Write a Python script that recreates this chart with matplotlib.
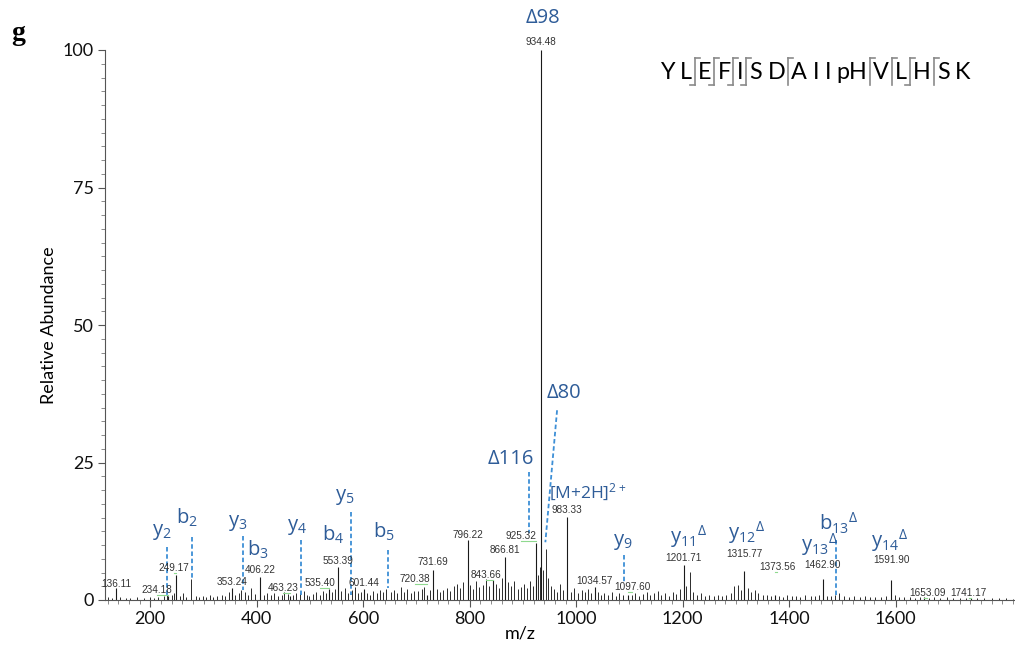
import matplotlib
matplotlib.use('Agg')
import matplotlib.pyplot as plt
from matplotlib.ticker import FixedLocator, MultipleLocator
from matplotlib.lines import Line2D

plt.rcParams['font.family'] = ['Lato', 'DejaVu Sans']
plt.rcParams['mathtext.fontset'] = 'custom'
plt.rcParams['mathtext.rm'] = 'Open Sans'
plt.rcParams['mathtext.it'] = 'Open Sans'
plt.rcParams['mathtext.bf'] = 'Open Sans:bold'

# --- labelled peaks (m/z, relative abundance) ---
label_mz = [136.11, 234.18, 249.17, 353.24, 406.22, 463.23, 535.40, 553.39,
            601.44, 720.38, 731.69, 796.22, 843.66, 866.81, 925.32, 934.48,
            983.33, 1034.57, 1097.60, 1201.71, 1315.77, 1373.56, 1462.90,
            1591.90, 1653.09, 1741.17]
label_int = [2.2, 0.8, 4.5, 2.2, 4.2, 0.8, 2.0, 6.0,
             2.0, 1.0, 5.5, 10.9, 3.6, 7.8, 10.4, 100.0,
             15.1, 2.4, 1.0, 6.4, 5.2, 1.0, 3.8,
             3.6, 0.5, 0.4]

# --- unlabelled peaks ---
peak_mz = [120, 128, 143, 155, 162, 175, 188, 199, 207, 215, 226, 232, 240, 244,
           255, 262, 268, 277.2, 285, 292, 299,
           305, 312, 318, 326, 334, 341, 347, 360, 366, 371, 378, 384, 390, 397,
           414, 420, 427, 433, 440, 447, 452, 458, 468, 474, 481, 488, 494, 499,
           505, 511, 518, 524, 530, 541, 547, 559, 566, 572, 579, 585, 591, 596,
           607, 613, 619, 625, 631, 637, 643, 652, 658, 664, 670, 676, 683, 689, 695,
           703, 710, 715, 725, 738, 744, 750, 757, 763, 770, 776, 782, 788, 801,
           806, 812, 818, 824, 830, 836, 849, 855, 860, 872, 878, 884, 890, 896,
           902, 908, 914, 919, 929, 932, 937, 943, 947, 952, 958, 964, 970, 976,
           990, 996, 1003, 1010, 1016, 1022, 1028, 1040, 1047, 1053, 1060, 1067,
           1074, 1081, 1088, 1104, 1111, 1118, 1125, 1132, 1139, 1146, 1153, 1160,
           1167, 1174, 1181, 1188, 1194,
           1207, 1214, 1220, 1227, 1234, 1241, 1250, 1258, 1266, 1274, 1282, 1290,
           1297, 1303, 1309, 1322, 1328, 1335, 1342, 1350, 1358, 1366, 1380, 1388,
           1396, 1405, 1413, 1421, 1430, 1440, 1448, 1456, 1470, 1478, 1486, 1494,
           1502, 1512, 1522, 1532, 1542, 1552, 1562, 1572, 1582, 1598, 1606, 1616,
           1626, 1636, 1646, 1662, 1672, 1684, 1696, 1708, 1720, 1732, 1752, 1766,
           1780, 1794, 1808, 1820]
peak_int = [0.6, 0.4, 0.5, 0.4, 0.3, 0.5, 0.4, 0.6, 0.4, 0.5, 0.7, 0.9, 1.0, 1.2,
            0.8, 1.3, 0.6, 3.8, 0.7, 0.5, 0.8,
            0.6, 0.9, 0.5, 0.7, 1.0, 0.8, 1.4, 1.0, 1.2, 1.8, 1.5, 0.9, 2.2, 1.1,
            1.0, 1.3, 0.9, 1.2, 0.8, 1.0, 1.5, 1.1, 0.9, 1.3, 1.2, 1.6, 1.0, 0.8,
            1.1, 1.4, 1.0, 1.7, 1.2, 1.5, 2.0, 1.6, 2.2, 1.3, 1.8, 2.4, 1.2, 1.4,
            1.3, 1.0, 1.6, 1.2, 1.8, 1.4, 2.0, 1.5, 1.8, 1.2, 2.3, 1.5, 2.0, 1.3, 1.7,
            1.6, 2.0, 2.4, 1.8, 2.0, 1.5, 1.8, 2.2, 1.6, 2.5, 3.0, 2.2, 3.2, 2.8,
            2.0, 3.5, 2.4, 2.8, 3.8, 2.5, 3.0, 2.2, 4.0, 3.2, 2.6, 3.4, 2.0, 2.4,
            3.0, 2.2, 3.5, 2.6, 4.5, 6.0, 5.5, 9.3, 4.0, 2.5, 2.0, 1.5, 3.0, 1.8,
            1.5, 2.2, 1.2, 1.8, 1.4, 2.0, 1.2, 1.5, 1.0, 1.3, 0.9, 1.4,
            0.8, 1.2, 0.9, 1.0, 1.3, 0.8, 1.1, 1.5, 0.9, 1.2, 1.6, 1.0,
            1.3, 0.8, 1.5, 1.1, 2.0,
            2.5, 5.1, 1.5, 1.0, 1.2, 0.8, 1.0, 0.7, 0.9, 0.8, 1.0, 1.2,
            2.5, 2.8, 1.8, 2.2, 1.5, 1.8, 1.2, 1.0, 0.9, 0.8, 0.8, 0.6,
            0.9, 0.7, 0.8, 0.6, 0.9, 0.7, 0.8, 1.0, 0.8, 0.7, 0.9, 1.2,
            0.7, 0.6, 0.8, 0.5, 0.7, 0.5, 0.6, 0.5, 0.8, 0.9, 0.6, 0.5,
            0.6, 0.4, 0.5, 0.4, 0.5, 0.4, 0.5, 0.3, 0.4, 0.3, 0.3, 0.4,
            0.3, 0.3, 0.3, 0.2]

# --- fragment ions ---
ion_names = ['y$_{2}$', 'b$_{2}$', 'y$_{3}$', 'b$_{3}$', 'y$_{4}$', 'b$_{4}$',
             'y$_{5}$', 'b$_{5}$', 'y$_{9}$', 'y$_{11}{}^{Δ}$', 'y$_{12}{}^{Δ}$',
             'y$_{13}{}^{Δ}$', 'b$_{13}{}^{Δ}$', 'y$_{14}{}^{Δ}$']
ion_mz = [232, 279, 374.6, 406.22, 483.6, 553.39, 577.5, 647, 1090, 1201.71,
          1315.77, 1462.90, 1488, 1591.90]

# --- precursor related labels ---
loss_names = ['Δ98', 'Δ80', 'Δ116', '[M+2H]$^{2+}$']
loss_mz = [934.48, 942, 912, 983.33]

residues = ['Y', 'L', 'E', 'F', 'I', 'S', 'D', 'A', 'I', 'I', 'pH', 'V', 'L', 'H', 'S', 'K']
b_seen = [2, 3, 4, 5, 13]
y_seen = [2, 3, 4, 5, 9, 11, 12, 13, 14]

BLUE = '#2E5C98'
DASH = '#3D8FD6'
W, H = 1015, 650

fig = plt.figure(figsize=(W / 100, H / 100), dpi=100)
ax = fig.add_axes([105 / W, 50 / H, 910 / W, 550 / H])

ax.vlines(peak_mz, 0, peak_int, colors='#2b2b2b', lw=0.7)
ax.vlines(label_mz, 0, label_int, colors='#1a1a1a', lw=0.8)

# peak labels: (dx in m/z, text centre y)
lab_layout = [(0, 2.9), (-22, 1.8), (-4, 5.9), (0, 3.3), (0, 5.4), (-14, 2.2), (-17, 3.1), (0, 7.1),
              (0, 3.1), (-24, 3.8), (0, 6.9), (0, 11.8), (-14, 4.5), (0, 9.1), (-30, 11.6), (0, 101.4),
              (0, 16.3), (0, 3.5), (8, 2.4), (0, 7.7), (0, 8.4), (4, 6.0), (0, 6.4),
              (0, 7.3), (6, 1.3), (-4, 1.3)]
for mz, it, (dx, ly) in zip(label_mz, label_int, lab_layout):
    ax.text(mz + dx, ly, f'{mz:.2f}', ha='center', va='center', fontsize=7.2,
            family='Liberation Sans', color='#333333')
    if dx != 0:
        ax.plot([mz + dx, mz], [ly - 0.9, ly - 0.9], color='#8fd98f', lw=0.8)

# ion labels: (label x, label y, dashed line from, to)
ion_layout = [(222, 12.4, 9.6, 0.9), (269, 14.9, 11.5, 3.6), (365, 14.0, 11.6, 1.8),
              (403, 9.1, None, None), (476, 13.3, 10.9, 0.9), (544, 11.8, None, None),
              (566, 18.7, 16.0, 0.9), (638, 12.4, 9.1, 2.2), (1088, 10.5, 8.2, 3.1),
              (1210, 11.5, None, None), (1320, 12.2, None, None), (1457, 10.0, None, None),
              (1492, 13.9, 10.9, 0.5), (1588, 10.9, None, None)]
for name, mz, (lx, ly, y0, y1) in zip(ion_names, ion_mz, ion_layout):
    ax.text(lx, ly, name, ha='center', va='center', fontsize=14.5, family='Open Sans',
            color=BLUE)
    if y0 is not None:
        ax.plot([mz, mz], [y0, y1], ls=(0, (2.5, 1.5)), color=DASH, lw=1.3)

# precursor losses: (x, y, size, alignment)
loss_layout = [(938, 105.8, 14.5, 'center'), (976, 37.6, 14.5, 'center'),
               (878, 25.6, 14.5, 'center'), (948, 19.6, 12.5, 'left')]
for name, (lx, ly, fs, ha) in zip(loss_names, loss_layout):
    ax.text(lx, ly, name, ha=ha, va='center', fontsize=fs, family='Open Sans',
            color=BLUE, clip_on=False)
ax.plot([964, loss_mz[1]], [34.5, 10.5], ls=(0, (2.5, 1.5)), color=DASH, lw=1.3)
ax.plot([loss_mz[2], loss_mz[2]], [23.3, 12.2], ls=(0, (2.5, 1.5)), color=DASH, lw=1.3)

ax.set_xlim(115, 1824)
ax.set_ylim(0, 100)
ax.xaxis.set_major_locator(FixedLocator([200, 400, 600, 800, 1000, 1200, 1400, 1600]))
ax.xaxis.set_minor_locator(MultipleLocator(20))
ax.yaxis.set_major_locator(FixedLocator([0, 25, 50, 75, 100]))
ax.yaxis.set_minor_locator(MultipleLocator(2.5))
ax.tick_params(which='major', length=5, width=0.8, color='#555555', labelsize=13,
               labelcolor='#111111', pad=3)
ax.tick_params(which='minor', length=3, width=0.6, color='#777777')
for s in ['top', 'right']:
    ax.spines[s].set_visible(False)
for s in ['left', 'bottom']:
    ax.spines[s].set_color('#555555')
    ax.spines[s].set_linewidth(0.8)

ax.set_ylabel('Relative Abundance', fontsize=13)
ax.yaxis.set_label_coords(-0.053, 0.5)
ax.set_xlabel('m/z', fontsize=13)
ax.xaxis.set_label_coords(0.456, -0.047)

fig.text(18 / W, 1 - 33 / H, 'g', fontsize=20, fontweight='bold',
         family='Liberation Serif', ha='center', va='center')

# peptide sequence with fragment brackets
renderer = fig.canvas.get_renderer()
x = 660.0
base = 79.0
n = len(residues)
for i, r in enumerate(residues, start=1):
    t = fig.text(x / W, 1 - base / H, r, fontsize=16.8, family='Lato', va='baseline', ha='left')
    x += t.get_window_extent(renderer).width
    if i == n:
        break
    has_b = i in b_seen
    has_y = (n - i) in y_seen
    if has_b or has_y:
        x += 2.5
        fig.add_artist(Line2D([x / W, x / W], [1 - 58 / H, 1 - 85 / H], color='#8a8a8a', lw=1.2))
        if has_b:
            fig.add_artist(Line2D([(x - 5) / W, x / W], [1 - 85 / H, 1 - 85 / H], color='#8a8a8a', lw=1.2))
        if has_y:
            fig.add_artist(Line2D([x / W, (x + 5) / W], [1 - 58 / H, 1 - 58 / H], color='#8a8a8a', lw=1.2))
        x += 3.5
    else:
        x += 5.5

fig.savefig('out.png', dpi=100)
